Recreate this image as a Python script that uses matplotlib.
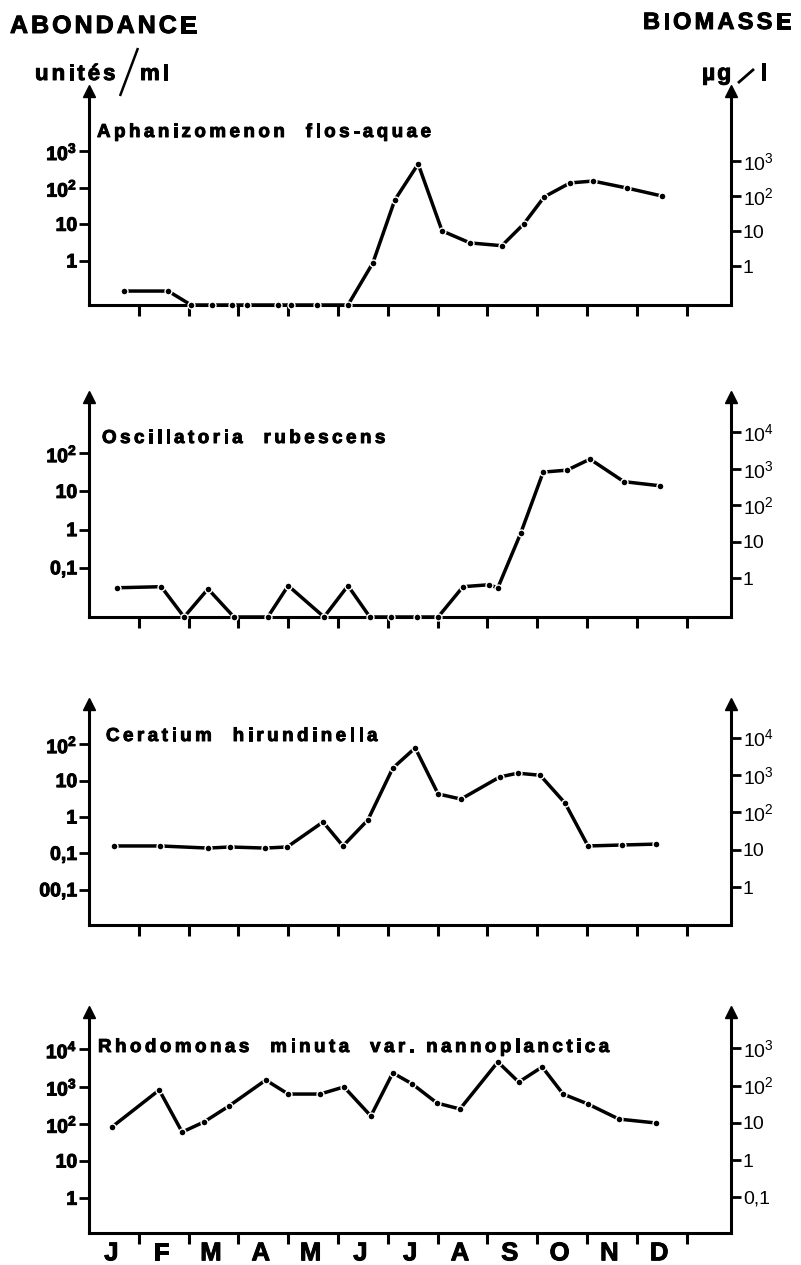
import matplotlib.pyplot as plt
from matplotlib import font_manager, patheffects
from matplotlib.font_manager import FontProperties
from matplotlib.ft2font import FT2Font
from matplotlib.lines import Line2D
from matplotlib.ticker import NullLocator
import numpy as np

plt.rcParams['font.family'] = ['Liberation Sans', 'DejaVu Sans']
plt.rcParams['mathtext.fontset'] = 'custom'
plt.rcParams['mathtext.rm'] = 'Liberation Sans'
plt.rcParams['mathtext.it'] = 'Liberation Sans'
plt.rcParams['mathtext.bf'] = 'Liberation Sans:bold'

W, H = 801, 1265

# trait un peu plus épais pour les textes (impression offset)
gras = [patheffects.withStroke(linewidth=0.7, foreground='k')]

mois = ['J', 'F', 'M', 'A', 'M', 'J', 'J', 'A', 'S', 'O', 'N', 'D']

# dates des prélèvements (mois écoulés depuis le 1er janvier), abondance en unités/ml
# 0 = espèce absente de l'échantillon
aph_dates = [0.70, 1.59, 2.05, 2.47, 2.87, 3.17, 3.80, 4.06, 4.58, 5.20, 5.70,
             6.14, 6.61, 7.09, 7.65, 8.29, 8.73, 9.14, 9.66, 10.12, 10.80, 11.51]
aph_abond = [0.15, 0.15, 0, 0, 0, 0, 0, 0, 0, 0, 0.88,
             46, 445, 6.6, 3.1, 2.6, 10.2, 56, 135, 152, 98, 59]

osc_dates = [0.56, 1.45, 1.91, 2.39, 2.91, 3.59, 4.00, 4.72, 5.20, 5.64, 6.06,
             6.59, 7.01, 7.51, 8.03, 8.21, 8.67, 9.12, 9.60, 10.06, 10.74, 11.47]
osc_abond = [0.030, 0.032, 0, 0.028, 0, 0, 0.034, 0, 0.034, 0, 0,
             0, 0, 0.032, 0.036, 0.030, 0.81, 32, 36, 70, 18, 14]

cer_dates = [0.50, 1.43, 2.39, 2.83, 3.53, 3.98, 4.70, 5.10, 5.60, 6.10,
             6.55, 7.01, 7.47, 8.25, 8.61, 9.06, 9.56, 10.02, 10.70, 11.39]
cer_abond = [0.16, 0.16, 0.14, 0.15, 0.14, 0.15, 0.73, 0.16, 0.83, 22,
             79, 4.3, 3.1, 12.6, 16, 14, 2.4, 0.16, 0.17, 0.18]

rho_dates = [0.46, 1.41, 1.87, 2.31, 2.81, 3.55, 4.00, 4.64, 5.12, 5.66, 6.10,
             6.49, 6.99, 7.45, 8.21, 8.63, 9.10, 9.52, 10.02, 10.64, 11.39]
rho_abond = [82, 810, 60, 112, 300, 1500, 630, 630, 980, 162, 2330,
             1180, 360, 250, 4600, 1320, 3380, 630, 340, 134, 105]

# graduations des axes abondance (gauche) / biomasse (droite)
aph_gauche = [1, 10, 100, 1000]
aph_droite = [1, 10, 100, 1000]
osc_gauche = [0.1, 1, 10, 100]
osc_droite = [1, 10, 100, 1000, 10000]
cer_gauche = [0.01, 0.1, 1, 10, 100]
cer_droite = [1, 10, 100, 1000, 10000]
rho_gauche = [1, 10, 100, 1000, 10000]
rho_droite = [0.1, 1, 10, 100, 1000]

# mise en page : haut/bas du cadre en pixels, bornes log10 des deux axes, titre
panneaux = [
    dict(nom='Aphanizomenon  flos-aquae', dates=aph_dates, abond=aph_abond,
         gauche=aph_gauche, droite=aph_droite, haut=91, bas=305,
         lim_g=(-1.205, 4.642), lim_d=(-1.106, 5.01), titre=(97, 137)),
    dict(nom='Oscillatoria  rubescens', dates=osc_dates, abond=osc_abond,
         gauche=osc_gauche, droite=osc_droite, haut=397, bas=617,
         lim_g=(-2.288, 3.471), lim_d=(-1.063, 4.964), titre=(102, 443)),
    dict(nom='Ceratium  hirundinella', dates=cer_dates, abond=cer_abond,
         gauche=cer_gauche, droite=cer_droite, haut=704, bas=925,
         lim_g=(-2.967, 3.104), lim_d=(-1.011, 4.898), titre=(106, 741)),
    dict(nom='Rhodomonas  minuta  var. nannoplanctica', dates=rho_dates,
         abond=rho_abond, gauche=rho_gauche, droite=rho_droite, haut=1012,
         bas=1233, lim_g=(-0.935, 5.005), lim_d=(-1.954, 3.971), titre=(98, 1052)),
]

libelles_gauche = {0.01: '00,1', 0.1: '0,1', 1: '1', 10: '10'}
libelles_droite = {0.1: '0,1', 1: '1', 10: '10'}


def libelle(v, table, bold):
    if v in table:
        return table[v]
    n = int(round(np.log10(v)))
    if bold:
        return r'$\mathbf{10}^{\mathbf{%d}}$' % n
    return r'$10^{%d}$' % n


def texte_espace(fig, x, y, s, size, weight='bold', espace=0.0):
    """Texte à lettres espacées, x/y en pixels depuis le coin haut gauche."""
    prop = FontProperties(family='Liberation Sans', weight=weight)
    ft = FT2Font(font_manager.findfont(prop))
    ft.set_size(size, 72)
    pos = x
    for c in s:
        if c != ' ':
            fig.text(pos / W, 1 - y / H, c, fontsize=size, fontweight=weight,
                     fontfamily='Liberation Sans', ha='left', va='baseline',
                     path_effects=gras)
        pos += ft.load_char(ord(c)).linearHoriAdvance / 65536 * 100 / 72 + espace


def trait(fig, x0, y0, x1, y1, lw=1.8):
    fig.add_artist(Line2D([x0 / W, x1 / W], [1 - y0 / H, 1 - y1 / H],
                          lw=lw, color='k', solid_capstyle='butt'))


fig = plt.figure(figsize=(W / 100, H / 100), dpi=100)
x_g, x_d = 89, 731

for i, p in enumerate(panneaux):
    ax = fig.add_axes([x_g / W, 1 - p['bas'] / H, (x_d - x_g) / W,
                       (p['bas'] - p['haut']) / H])
    ax.set_xlim(0, (x_d - x_g) / 49.8)
    ax.set_yscale('log')
    ax.set_ylim(10 ** p['lim_g'][0], 10 ** p['lim_g'][1])

    valeurs = np.array(p['abond'], dtype=float)
    valeurs[valeurs == 0] = ax.get_ylim()[0]
    ax.plot(p['dates'], valeurs, color='k', lw=2.5, marker='o', ms=5.0,
            mfc='k', mec='white', mew=1.0, clip_on=False, zorder=3)

    ax.yaxis.set_minor_locator(NullLocator())
    ax.set_yticks(p['gauche'],
                  [libelle(v, libelles_gauche, True) for v in p['gauche']],
                  fontweight='bold', fontsize=14, path_effects=gras)
    ax.tick_params(axis='y', direction='out', length=7, width=2, pad=1.5)

    ax.set_xticks(range(1, 13))
    ax.tick_params(axis='x', which='major', direction='out', length=8,
                   width=2.2, labelbottom=False)
    if i == len(panneaux) - 1:
        ax.set_xticks(np.arange(12) + 0.45, minor=True)
        ax.set_xticklabels(mois, minor=True, fontweight='bold', fontsize=18.5,
                           path_effects=gras)
        ax.tick_params(axis='x', which='minor', length=0, pad=6)

    for cote in ['top', 'right']:
        ax.spines[cote].set_visible(False)
    for cote in ['left', 'bottom']:
        ax.spines[cote].set_linewidth(2.2)

    ax2 = ax.twinx()
    ax2.set_yscale('log')
    ax2.set_ylim(10 ** p['lim_d'][0], 10 ** p['lim_d'][1])
    ax2.yaxis.set_minor_locator(NullLocator())
    ax2.set_yticks(p['droite'],
                   [libelle(v, libelles_droite, False) for v in p['droite']],
                   fontsize=14)
    ax2.tick_params(axis='y', direction='out', length=7, width=2, pad=1.5)
    for cote in ['top', 'left', 'bottom']:
        ax2.spines[cote].set_visible(False)
    ax2.spines['right'].set_linewidth(2.2)

    # flèches en haut des deux axes verticaux
    for xa in (0, 1):
        ax.plot([xa], [1], marker='^', ms=8, color='k', transform=ax.transAxes,
                clip_on=False, zorder=4)

    texte_espace(fig, p['titre'][0], p['titre'][1], p['nom'], 13.5, espace=3.5)

# en-têtes des deux axes
texte_espace(fig, 10, 33, 'ABONDANCE', 18, espace=3)
texte_espace(fig, 643, 29, 'BIOMASSE', 17, espace=3.2)
texte_espace(fig, 35, 80, 'unités', 16, espace=3)
texte_espace(fig, 140, 80, 'ml', 16, espace=3)
trait(fig, 120, 96, 138, 48)
texte_espace(fig, 702, 80, 'µg', 16.5, espace=2)
texte_espace(fig, 760, 80, 'l', 16.5)
trait(fig, 738, 83, 754, 69, lw=2)

fig.savefig('out.png', dpi=100, facecolor='white')
